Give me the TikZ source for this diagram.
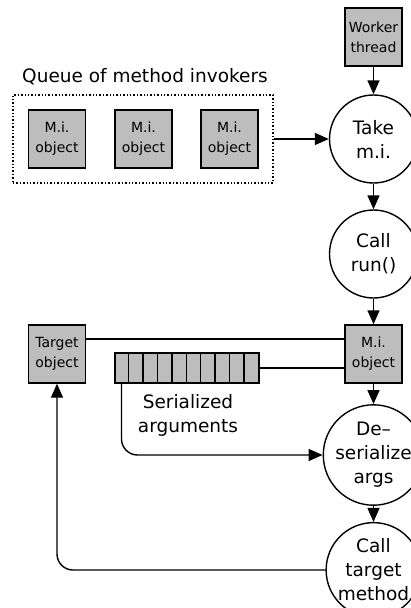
\documentclass[tikz,border=0pt]{standalone}
\usepackage{fontspec}
\setmainfont{DejaVu Sans}
\usetikzlibrary{arrows.meta,positioning}

\tikzset{
  every picture/.style={line width=1.4pt},
  box/.style={draw, fill=boxgray, rectangle, minimum width=57pt, minimum height=58pt,
    inner sep=0pt, align=center, font=\fontsize{14}{20}\selectfont},
  stepcircle/.style={draw, circle, minimum size=88pt, inner sep=0pt, align=center,
    font=\fontsize{18.5}{24}\selectfont},
  flow/.style={-{Triangle[length=14pt,width=12pt]}},
  link/.style={-},
  label text/.style={align=center, font=\fontsize{18.5}{24}\selectfont},
}
\definecolor{boxgray}{RGB}{189,189,189}

\begin{document}
\begin{tikzpicture}[x=1pt, y=-1pt]
  \useasboundingbox (0,0) rectangle (411,608);
  \clip (0,0) rectangle (411,608);

  % queue of method invokers
  \node[label text] (qtitle) at (145,77) {Queue of method invokers};
  \node[draw, dotted, minimum width=260pt, minimum height=88pt, inner sep=0pt]
    (queue) at (143,139) {};
  \node[box] (q1) at (57,139) {M.i.\\object};
  \node[box] (q2) at (143.5,139) {M.i.\\object};
  \node[box] (q3) at (229.5,139) {M.i.\\object};

  % worker thread column
  \node[box] (worker) at (373.5,37) {Worker\\thread};
  \node[stepcircle] (take) at (373.5,139) {Take\\m.i.};
  \node[stepcircle] (run) at (373.5,254) {Call\\run()};
  \node[box] (mi) at (373.5,354) {M.i.\\object};
  \node[stepcircle] (deser) at (373.5,455) {De–\\serialize\\args};
  \node[stepcircle] (calltgt) at (373.5,570) {Call\\target\\method};

  % target object and serialized argument array
  \node[box] (target) at (57,354) {Target\\object};
  \node[draw, fill=boxgray, rectangle, minimum width=144pt, minimum height=30pt, inner sep=0pt]
    (args) at (187,368) {};
  \foreach \i in {1,...,9}
    \draw ([xshift=\i*14.4pt]args.north west) -- ([xshift=\i*14.4pt]args.south west);
  \node[label text] (argslabel) at (188,415) {Serialized\\arguments};

  % connectors
  \draw[flow] (worker) -- (take);
  \draw[flow] (queue.east) -- (take.west);
  \draw[flow] (take) -- (run);
  \draw[flow] (run) -- (mi);
  \draw[flow] (mi) -- (deser);
  \draw[flow] (deser) -- (calltgt);
  \draw[link] ([yshift=15pt]target.east) -- ([yshift=15pt]mi.west);
  \draw[link] (args.east) -- (args.east -| mi.west);
  \draw[flow, rounded corners=16pt] ([xshift=7.2pt]args.south west) |- (deser.west);
  \draw[flow, rounded corners=16pt] (calltgt.west) -| (target.south);
\end{tikzpicture}
\end{document}
